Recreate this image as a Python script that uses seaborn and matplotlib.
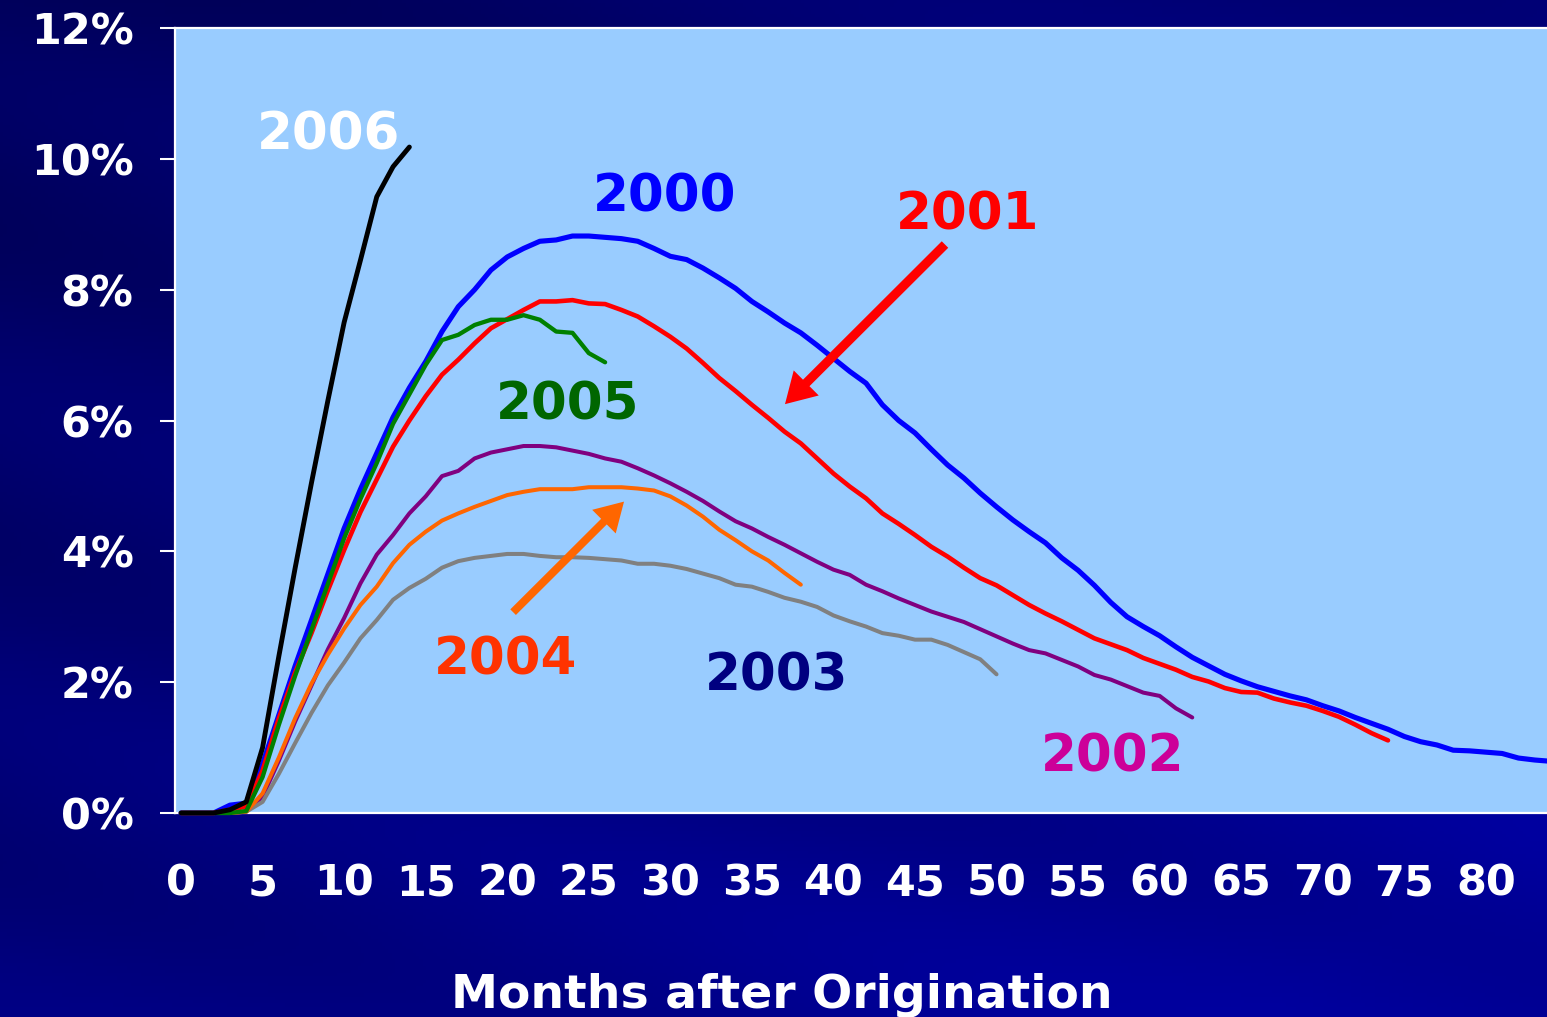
import numpy as np
import pandas as pd
import matplotlib
matplotlib.use("Agg")
import matplotlib.pyplot as plt
import seaborn as sns

# ---------------- data (cumulative default rate, % by months after origination) -------------
y2000 = [0, 0, 0, 0.12, 0.15, 0.75, 1.5, 2.25, 2.95, 3.65, 4.35, 4.95, 5.5, 6.05, 6.5, 6.9,
         7.36, 7.74, 8.0, 8.3, 8.5, 8.63, 8.74, 8.76, 8.82, 8.82, 8.8, 8.78, 8.74, 8.63, 8.51,
         8.46, 8.33, 8.18, 8.02, 7.82, 7.66, 7.49, 7.34, 7.15, 6.95, 6.75, 6.57, 6.24, 6.0,
         5.81, 5.56, 5.32, 5.12, 4.89, 4.68, 4.48, 4.30, 4.13, 3.90, 3.71, 3.48, 3.22, 3.00,
         2.85, 2.71, 2.54, 2.38, 2.25, 2.12, 2.02, 1.93, 1.86, 1.79, 1.73, 1.64, 1.56, 1.46,
         1.37, 1.28, 1.17, 1.09, 1.04, 0.96, 0.95, 0.93, 0.91, 0.84, 0.81, 0.79]
y2001 = [0, 0, 0, 0.05, 0.1, 0.65, 1.45, 2.15, 2.75, 3.4, 4.02, 4.6, 5.1, 5.6, 6.0, 6.37,
         6.7, 6.93, 7.18, 7.41, 7.55, 7.69, 7.82, 7.82, 7.84, 7.79, 7.78, 7.69, 7.59, 7.44,
         7.28, 7.10, 6.88, 6.65, 6.45, 6.24, 6.04, 5.83, 5.65, 5.42, 5.19, 4.99, 4.81, 4.58,
         4.42, 4.25, 4.07, 3.92, 3.75, 3.59, 3.48, 3.33, 3.18, 3.05, 2.93, 2.80, 2.67, 2.58,
         2.49, 2.37, 2.28, 2.19, 2.08, 2.01, 1.91, 1.85, 1.84, 1.75, 1.69, 1.64, 1.56, 1.47,
         1.35, 1.22, 1.11]
y2002 = [0, 0, 0, 0, 0.02, 0.25, 0.8, 1.4, 1.95, 2.5, 2.98, 3.51, 3.95, 4.25, 4.58, 4.84,
         5.15, 5.23, 5.42, 5.51, 5.56, 5.61, 5.61, 5.59, 5.54, 5.49, 5.42, 5.37, 5.27, 5.16,
         5.04, 4.91, 4.77, 4.61, 4.46, 4.35, 4.22, 4.10, 3.97, 3.84, 3.72, 3.64, 3.49, 3.39,
         3.28, 3.18, 3.08, 3.0, 2.92, 2.81, 2.70, 2.59, 2.49, 2.44, 2.34, 2.24, 2.11, 2.04,
         1.94, 1.84, 1.79, 1.60, 1.46]
y2003 = [0, 0, 0, 0, 0.02, 0.17, 0.6, 1.07, 1.53, 1.95, 2.3, 2.67, 2.95, 3.26, 3.44, 3.58,
         3.75, 3.85, 3.9, 3.93, 3.96, 3.96, 3.93, 3.91, 3.91, 3.9, 3.88, 3.86, 3.81, 3.81,
         3.78, 3.73, 3.66, 3.59, 3.49, 3.46, 3.38, 3.29, 3.23, 3.15, 3.02, 2.93, 2.85, 2.75,
         2.71, 2.65, 2.65, 2.57, 2.46, 2.35, 2.12]
y2004 = [0, 0, 0, 0, 0.02, 0.3, 0.85, 1.45, 1.98, 2.42, 2.82, 3.18, 3.46, 3.82, 4.10, 4.30,
         4.47, 4.58, 4.68, 4.77, 4.86, 4.91, 4.95, 4.95, 4.95, 4.98, 4.98, 4.98, 4.96, 4.93,
         4.84, 4.70, 4.53, 4.33, 4.17, 4.0, 3.86, 3.67, 3.49]
y2005 = [0, 0, 0, 0, 0.03, 0.55, 1.35, 2.1, 2.8, 3.5, 4.2, 4.8, 5.35, 5.95, 6.4, 6.85,
         7.23, 7.31, 7.46, 7.54, 7.54, 7.61, 7.54, 7.36, 7.34, 7.03, 6.89]
y2006 = [0, 0, 0, 0.05, 0.17, 1.0, 2.4, 3.75, 5.05, 6.3, 7.5, 8.45, 9.42, 9.88, 10.18]

years = ["2000", "2001", "2002", "2003", "2004", "2005", "2006"]
series = [y2000, y2001, y2002, y2003, y2004, y2005, y2006]
line_colors = ["#0000FF", "#FF0000", "#800080", "#808080", "#FF6600", "#008000", "#000000"]
label_colors = ["#0000FF", "#FF0000", "#CC0099", "#000080", "#FF3300", "#006600", "#FFFFFF"]
y_ticks = [0, 2, 4, 6, 8, 10, 12]
y_tick_labels = ["0%", "2%", "4%", "6%", "8%", "10%", "12%"]
x_ticks = list(range(0, 81, 5))
x_label = "Months after Origination"

frames = []
for yr, vals in zip(years, series):
    frames.append(pd.DataFrame({"month": np.arange(len(vals)), "rate": vals, "year": yr}))
df = pd.concat(frames, ignore_index=True)

# ---------------- figure ----------------
sns.set_theme(style="white")
plt.rcParams["font.family"] = ["DejaVu Sans"]

W, H = 1547, 1017
fig = plt.figure(figsize=(W / 100, H / 100), dpi=100)

# navy gradient background
bg = fig.add_axes([0, 0, 1, 1], zorder=0)
gy, gx = np.mgrid[0:1:300j, 0:1:450j]
t = np.clip(0.55 * gx + 0.55 * gy, 0, 1)
band = 0.06 * np.sin((gy * 3.2 - gx * 1.3) * np.pi * 2.0)
blue = np.clip(0.36 + 0.24 * t + band * 0.5, 0, 1)
img = np.dstack([np.zeros_like(blue), np.zeros_like(blue), blue])
bg.imshow(img, extent=[0, 1, 0, 1], aspect="auto", origin="upper")
bg.set_axis_off()

ax = fig.add_axes([175 / W, 1 - 813 / H, 1 - 175 / W, (813 - 28) / H], zorder=1)
ax.set_facecolor("#99CCFF")

widths = {"2000": 3.7, "2001": 3.3, "2002": 2.9, "2003": 2.9, "2004": 2.9, "2005": 3.1, "2006": 3.5}
for i, yr in enumerate(years):
    sub = df[df["year"] == yr]
    sns.lineplot(data=sub, x="month", y="rate", color=line_colors[i], linewidth=widths[yr],
                 ax=ax, legend=False, sort=False)
for i, ln in enumerate(ax.lines):
    ln.set_zorder(3 + i)
    ln.set_clip_on(False)
    ln.set_solid_capstyle("round")
    ln.set_solid_joinstyle("round")

ax.set_xlim(-0.37, 83.75)
ax.set_ylim(0, 12)
ax.set_xlabel("")
ax.set_ylabel("")

ax.set_yticks(y_ticks)
ax.set_yticklabels(y_tick_labels)
ax.set_xticks(x_ticks)
ax.set_xticklabels([str(v) for v in x_ticks])
ax.tick_params(axis="y", length=10.8, width=1.5, color="white", pad=19,
               labelsize=31, labelcolor="white", left=True)
ax.tick_params(axis="x", length=0, pad=36, labelsize=31, labelcolor="white", bottom=True)
for lab in ax.get_xticklabels() + ax.get_yticklabels():
    lab.set_fontweight("bold")

for side in ["left", "top", "bottom"]:
    ax.spines[side].set_visible(True)
    ax.spines[side].set_color("white")
    ax.spines[side].set_linewidth(1.6)
    ax.spines[side].set_zorder(2.5)
ax.spines["right"].set_visible(False)
ax.grid(False)

# year labels
label_pos = {"2006": (9.07, 10.15), "2000": (29.68, 9.19), "2001": (48.25, 8.92),
             "2005": (23.73, 6.02), "2004": (19.87, 2.11), "2003": (36.54, 1.88),
             "2002": (57.14, 0.63)}
for i, yr in enumerate(years):
    xx, yy = label_pos[yr]
    ax.text(xx, yy, yr, color=label_colors[i], fontsize=37, fontweight="bold",
            ha="center", va="baseline", zorder=20)

# arrows
ax.annotate("", xy=(37.03, 6.25), xytext=(46.84, 8.69),
            arrowprops=dict(arrowstyle="simple,head_length=0.72,head_width=0.85,tail_width=0.22",
                            color="#FF0000", mutation_scale=30, shrinkA=0, shrinkB=0, lw=0),
            zorder=21)
ax.annotate("", xy=(27.16, 4.76), xytext=(20.36, 3.07),
            arrowprops=dict(arrowstyle="simple,head_length=0.68,head_width=0.80,tail_width=0.19",
                            color="#FF6600", mutation_scale=30, shrinkA=0, shrinkB=0, lw=0),
            zorder=21)

fig.text(782 / W, 1 - 1008 / H, x_label, color="white", fontsize=34, fontweight="bold",
         ha="center", va="baseline")

fig.savefig("out.png", dpi=100)
